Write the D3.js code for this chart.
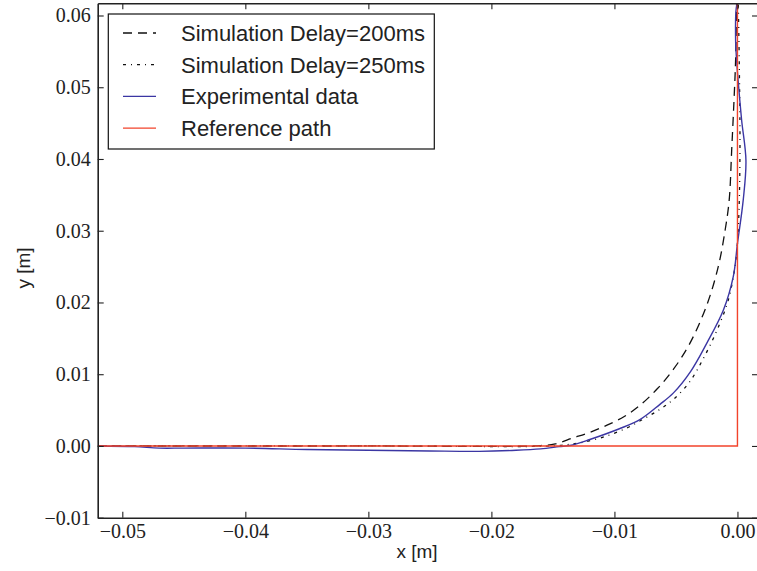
<!DOCTYPE html>
<html>
<head>
<meta charset="utf-8">
<script src="https://cdn.jsdelivr.net/npm/d3@7"></script>
<style>
  body { margin: 0; background: #fff; }
  svg { display: block; }
</style>
</head>
<body>
<svg id="viz" width="757" height="571"></svg>
<script>
// reference path (red)
var refX = [-0.052, 0, 0];
var refY = [0, 0, 0.0617];

// simulation, 200 ms delay (dashed)
var sim200X = [-0.052, -0.030, -0.0160, -0.0148, -0.0134, -0.0120, -0.0106, -0.0092, -0.0079, -0.0065, -0.0052, -0.0039, -0.0025, -0.00156, -0.0010, -0.00067, -0.00047, -0.00028, -0.00015, -0.00007];
var sim200Y = [0, 0, 0.00005, 0.0003, 0.0011, 0.0019, 0.0029, 0.0041, 0.0057, 0.0080, 0.0107, 0.0142, 0.0196, 0.0250, 0.0301, 0.0343, 0.0412, 0.0482, 0.0538, 0.0617];

// simulation, 250 ms delay (dash-dot)
var sim250X = [-0.052, -0.030, -0.0150, -0.0138, -0.0126, -0.0108, -0.0090, -0.0077, -0.0064, -0.0052, -0.0039, -0.0028, -0.0017, -0.00075, -0.0002, 0, 0.00015, 0.0002, 0.0002, 0.00015, 0.00007];
var sim250Y = [0, 0, 0, 0.0002, 0.0005, 0.0013, 0.0025, 0.0037, 0.0050, 0.0065, 0.0089, 0.0121, 0.0160, 0.0203, 0.0250, 0.0282, 0.0343, 0.0400, 0.0454, 0.0530, 0.0617];

// experimental data (blue)
var expX = [-0.052, -0.049, -0.047, -0.045, -0.040, -0.035, -0.030, -0.025, -0.021, -0.018, -0.016, -0.0145, -0.0135, -0.0120, -0.0096, -0.0079, -0.0063, -0.0052, -0.0038, -0.0025, -0.00115, -0.00034, 0, 0.00047, 0.00069, 0.00034, 0.00012, -0.00007, -0.00015, -0.0001, 0];
var expY = [0, -0.0001, -0.0003, -0.0003, -0.0003, -0.0005, -0.0006, -0.0007, -0.00075, -0.0006, -0.0004, -0.0001, 0.0001, 0.0009, 0.0024, 0.0037, 0.0058, 0.0074, 0.0104, 0.0143, 0.0189, 0.0236, 0.0282, 0.0343, 0.0398, 0.0454, 0.0496, 0.0538, 0.0566, 0.0610, 0.0617];

var xTicks = [-0.05, -0.04, -0.03, -0.02, -0.01, 0.00];
var yTicks = [-0.01, 0.00, 0.01, 0.02, 0.03, 0.04, 0.05, 0.06];

var legendLabels = ['Simulation Delay=200ms', 'Simulation Delay=250ms', 'Experimental data', 'Reference path'];

// plot box (right spine sits just past the window edge)
var pLeft = 97.7, pTop = 3.3, pRight = 758, pBottom = 517.7;

var svg = d3.select('#viz');

var x = d3.scaleLinear().domain([-0.052, 0.00167]).range([pLeft, pRight]);
var y = d3.scaleLinear().domain([-0.01, 0.0617]).range([pBottom, pTop]);

svg.append('clipPath')
  .attr('id', 'clip')
  .append('rect')
  .attr('x', pLeft)
  .attr('y', pTop)
  .attr('width', pRight - pLeft)
  .attr('height', pBottom - pTop);

var series = [
  { xs: sim200X, ys: sim200Y, color: '#111', dash: '9,6', width: 1.3 },
  { xs: sim250X, ys: sim250Y, color: '#111', dash: '3,5,1,5', width: 1.3 },
  { xs: expX, ys: expY, color: '#3b36a3', dash: null, width: 1.4 },
  { xs: refX, ys: refY, color: '#f2432b', dash: null, width: 1.4 }
];

var smooth = d3.line()
  .x((d) => x(d[0]))
  .y((d) => y(d[1]))
  .curve(d3.curveCatmullRom.alpha(0.5));

var straight = d3.line()
  .x((d) => x(d[0]))
  .y((d) => y(d[1]));

var plot = svg.append('g').attr('clip-path', 'url(#clip)');

series.forEach((s) => {
  var pts = s.xs.map((v, i) => [v, s.ys[i]]);
  plot.append('path')
    .attr('d', s.xs.length > 3 ? smooth(pts) : straight(pts))
    .attr('fill', 'none')
    .attr('stroke', s.color)
    .attr('stroke-width', s.width)
    .attr('stroke-dasharray', s.dash);
});

// axes, matplotlib style: ticks inside on all four sides
var fmt = d3.format('.2f');

svg.append('g')
  .attr('transform', 'translate(0,' + pBottom + ')')
  .call(d3.axisBottom(x).tickValues(xTicks).tickFormat(fmt).tickSize(-6).tickSizeOuter(0).tickPadding(6));

svg.append('g')
  .attr('transform', 'translate(' + pLeft + ',0)')
  .call(d3.axisLeft(y).tickValues(yTicks).tickFormat(fmt).tickSize(-6).tickSizeOuter(0).tickPadding(7));

svg.append('g')
  .attr('transform', 'translate(0,' + pTop + ')')
  .call(d3.axisTop(x).tickValues(xTicks).tickFormat('').tickSize(-6).tickSizeOuter(0));

svg.append('g')
  .attr('transform', 'translate(' + pRight + ',0)')
  .call(d3.axisRight(y).tickValues(yTicks).tickFormat('').tickSize(-6).tickSizeOuter(0));

svg.selectAll('.domain').attr('stroke', '#222').attr('stroke-width', 1.6);
svg.selectAll('.tick line').attr('stroke', '#222').attr('stroke-width', 1.1);
svg.selectAll('.tick text')
  .style('font-family', '"Liberation Serif", "DejaVu Serif", serif')
  .style('font-size', '20px')
  .attr('fill', '#222');

// axis labels
svg.append('text')
  .attr('x', 417)
  .attr('y', 558)
  .attr('text-anchor', 'middle')
  .style('font-family', '"Liberation Sans", Arial, sans-serif')
  .style('font-size', '19px')
  .attr('fill', '#222')
  .text('x [m]');

svg.append('text')
  .attr('transform', 'rotate(-90)')
  .attr('x', -268)
  .attr('y', 30)
  .attr('text-anchor', 'middle')
  .style('font-family', '"Liberation Sans", Arial, sans-serif')
  .style('font-size', '19px')
  .attr('fill', '#222')
  .text('y [m]');

// legend
var legend = svg.append('g');

legend.append('rect')
  .attr('x', 108.3)
  .attr('y', 14)
  .attr('width', 326)
  .attr('height', 135)
  .attr('fill', '#fff')
  .attr('stroke', '#111')
  .attr('stroke-width', 1.2);

legendLabels.forEach((lab, i) => {
  var cy = 33 + i * 31.7;
  var s = series[i];
  legend.append('line')
    .attr('x1', 123)
    .attr('x2', 156)
    .attr('y1', cy)
    .attr('y2', cy)
    .attr('stroke', s.color)
    .attr('stroke-width', s.width)
    .attr('stroke-dasharray', s.dash);
  legend.append('text')
    .attr('x', 181)
    .attr('y', cy)
    .attr('dy', '0.36em')
    .style('font-family', '"Liberation Sans", Arial, sans-serif')
    .style('font-size', '22px')
    .attr('fill', '#222')
    .text(lab);
});
</script>
</body>
</html>
